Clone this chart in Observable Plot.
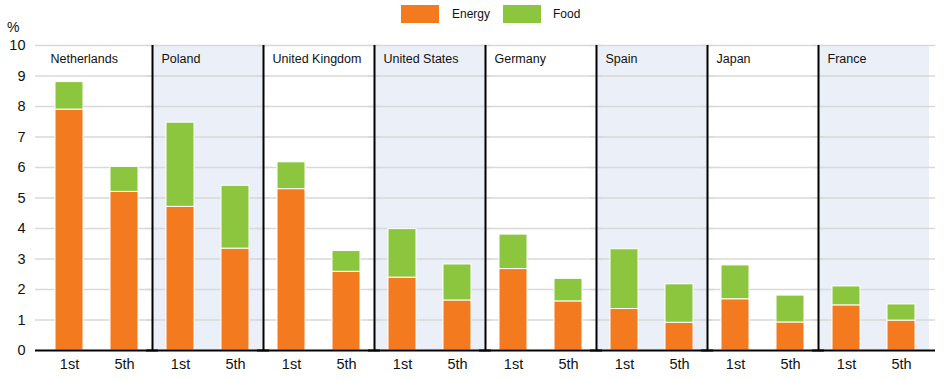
<!DOCTYPE html>
<html>
<head>
<meta charset="utf-8">
<script src="https://cdn.jsdelivr.net/npm/d3@7"></script>
<script src="https://cdn.jsdelivr.net/npm/@observablehq/plot@0.6"></script>
<style>
  html, body { margin: 0; padding: 0; background: #fff; }
  body { font-family: "Liberation Sans", Arial, sans-serif; color: #111; }
  #wrap { position: relative; width: 944px; height: 380px; overflow: hidden; }
  #legend { position: relative; height: 30px; }
  .sw { position: absolute; top: 5px; width: 38px; height: 18px; }
  .lt { position: absolute; top: 6px; font-size: 12px; line-height: 16px; color: #111; }
  #pct { position: absolute; left: 7px; top: 19px; font-size: 14px; line-height: 16px; color: #111; }
  #chart svg { display: block; }
</style>
</head>
<body>
<div id="wrap">
  <div id="legend"></div>
  <div id="pct">%</div>
  <div id="chart"></div>
</div>
<script>
// ---- data ----
const countries = ["Netherlands", "Poland", "United Kingdom", "United States", "Germany", "Spain", "Japan", "France"];
const quintiles = ["1st", "5th"];
const components = ["Energy", "Food"];
const colors = ["#f47a20", "#8cc63f"];
const energy1st = [7.9, 4.71, 5.29, 2.39, 2.67, 1.36, 1.68, 1.48];
const food1st   = [0.9, 2.76, 0.88, 1.59, 1.13, 1.96, 1.11, 0.62];
const energy5th = [5.2, 3.34, 2.58, 1.64, 1.61, 0.91, 0.92, 0.98];
const food5th   = [0.82, 2.06, 0.68, 1.18, 0.74, 1.26, 0.88, 0.53];
const shadedCountries = ["Poland", "United States", "Spain", "France"];
const yTicks = [0, 1, 2, 3, 4, 5, 6, 7, 8, 9, 10];

// ---- table ----
const rows = [];
countries.forEach((c, i) => {
  rows.push({country: c, quintile: "1st", component: "Energy", value: energy1st[i]});
  rows.push({country: c, quintile: "1st", component: "Food", value: food1st[i]});
  rows.push({country: c, quintile: "5th", component: "Energy", value: energy5th[i]});
  rows.push({country: c, quintile: "5th", component: "Food", value: food5th[i]});
});

// ---- legend ----
const legend = document.getElementById("legend");
const legendPos = [[401, 452], [503, 553]];
components.forEach((k, i) => {
  const s = document.createElement("div");
  s.className = "sw";
  s.style.left = legendPos[i][0] + "px";
  s.style.background = colors[i];
  legend.appendChild(s);
  const t = document.createElement("div");
  t.className = "lt";
  t.style.left = legendPos[i][1] + "px";
  t.textContent = k;
  legend.appendChild(t);
});

// ---- chart ----
const W = 944, H = 350, ML = 41, MR = 15, MT = 15, MB = 30;
const facetW = (W - ML - MR) / countries.length;
const font = "'Liberation Sans', Arial, sans-serif";

const chart = Plot.plot({
  width: W,
  height: H,
  marginLeft: ML,
  marginRight: MR,
  marginTop: MT,
  marginBottom: MB,
  style: {fontFamily: font, fontSize: "14px", color: "#111", background: "transparent", overflow: "visible"},
  fx: {domain: countries, padding: 0, axis: null, label: null},
  x: {domain: quintiles, paddingInner: 0.5, paddingOuter: 0.25, label: null},
  y: {domain: [0, 10], label: null},
  color: {domain: components, range: colors},
  marks: [
    Plot.rect(shadedCountries, {fx: d => d, y1: 0, y2: 10, fill: "#ebeff7"}),
    Plot.ruleY(yTicks.slice(1), {y: d => d, stroke: "#d9d9d9", strokeWidth: 1.4, insetLeft: -6, insetRight: -6}),
    Plot.ruleX(countries.slice(1), {fx: d => d, x: null, y1: 0, y2: 10, stroke: "#000", strokeWidth: 2, dx: -facetW / 2}),
    Plot.barY(rows, {fx: "country", x: "quintile", y: "value", fill: "component", stroke: "#fff", strokeWidth: 1}),
    Plot.ruleY([0], {stroke: "#000", strokeWidth: 2, insetLeft: -6, insetRight: -6}),
    Plot.text(countries, {fx: d => d, text: d => d, frameAnchor: "top-left", textAnchor: "start", lineAnchor: "middle", dx: 9, dy: 13, fontSize: 12.5, fill: "#111"}),
    Plot.axisY({ticks: yTicks, tickSize: 0, tickPadding: 16, label: null, fontSize: 14.5, fill: "#111"}),
    Plot.axisX({tickSize: 0, tickPadding: 8, label: null, fontSize: 14.5, fill: "#111"})
  ]
});
document.getElementById("chart").appendChild(chart);
</script>
</body>
</html>
